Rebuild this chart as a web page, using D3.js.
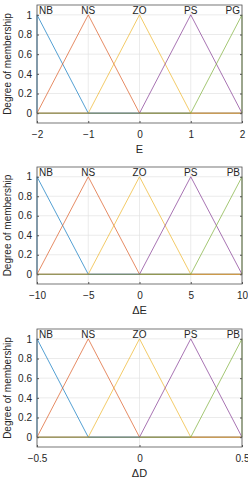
<!DOCTYPE html>
<html>
<head>
<meta charset="utf-8">
<script src="https://cdn.jsdelivr.net/npm/d3@7"></script>
<style>
  body { margin: 0; background: #fff; }
  svg text { font-family: "Liberation Sans", Arial, sans-serif; fill: #262626; }
</style>
</head>
<body>
<div id="chart"></div>
<script>
// Membership function names per panel
var labelsE = ["NB", "NS", "ZO", "PS", "PG"];
var labelsDE = ["NB", "NS", "ZO", "PS", "PB"];
var labelsDD = ["NB", "NS", "ZO", "PS", "PB"];

// Triangular MF params [a, b, c] per panel
var mfE = [[-3, -2, -1], [-2, -1, 0], [-1, 0, 1], [0, 1, 2], [1, 2, 3]];
var mfDE = [[-15, -10, -5], [-10, -5, 0], [-5, 0, 5], [0, 5, 10], [5, 10, 15]];
var mfDD = [[-0.75, -0.5, -0.25], [-0.5, -0.25, 0], [-0.25, 0, 0.25], [0, 0.25, 0.5], [0.25, 0.5, 0.75]];

// Axis ranges and tick labels
var rangeE = [-2, 2], rangeDE = [-10, 10], rangeDD = [-0.5, 0.5];
var ticksE = [-2, -1, 0, 1, 2];
var ticksDE = [-10, -5, 0, 5, 10];
var ticksDD = [-0.5, 0, 0.5];
var yTicks = [0, 0.2, 0.4, 0.6, 0.8, 1];

var colors = ["#0072BD", "#D95319", "#EDB120", "#7E2F8E", "#77AC30"];

var width = 248, height = 480;
var svg = d3.select("#chart").append("svg")
  .attr("width", width)
  .attr("height", height);

var panels = [
  { top: 5, bottom: 123, range: rangeE, ticks: ticksE, mf: mfE, labels: labelsE, title: "E" },
  { top: 167, bottom: 284, range: rangeDE, ticks: ticksDE, mf: mfDE, labels: labelsDE, title: "\u0394E" },
  { top: 329, bottom: 447, range: rangeDD, ticks: ticksDD, mf: mfDD, labels: labelsDD, title: "\u0394D" }
];

var left = 37, right = 242;

panels.forEach(function(p) {
  var x = d3.scaleLinear().domain(p.range).range([left, right]);
  var y = d3.scaleLinear().domain([-0.1, 1.1]).range([p.bottom, p.top]);
  var g = svg.append("g");

  // grid
  g.selectAll(".gx").data(p.ticks).enter().append("line")
    .attr("x1", d => x(d)).attr("x2", d => x(d))
    .attr("y1", p.top).attr("y2", p.bottom)
    .attr("stroke", "#e3e3e3").attr("stroke-width", 0.7);
  g.selectAll(".gy").data(yTicks).enter().append("line")
    .attr("x1", left).attr("x2", right)
    .attr("y1", d => y(d)).attr("y2", d => y(d))
    .attr("stroke", "#e3e3e3").attr("stroke-width", 0.7);

  // membership functions
  var line = d3.line().x(d => x(d[0])).y(d => y(d[1]));
  p.mf.forEach(function(m, i) {
    var pts = [[p.range[0], 0]];
    m.forEach(function(v, k) {
      if (v >= p.range[0] && v <= p.range[1]) pts.push([v, k === 1 ? 1 : 0]);
      else if (k !== 1) {
        // edge of range: clip linearly
        var xe = v < p.range[0] ? p.range[0] : p.range[1];
        var val = 1 - Math.abs(xe - m[1]) / Math.abs(v - m[1]);
        pts.push([xe, val]);
      }
    });
    pts.push([p.range[1], 0]);
    pts.sort((a, b) => a[0] - b[0]);
    g.append("path")
      .datum(pts)
      .attr("d", line)
      .attr("fill", "none")
      .attr("stroke", colors[i])
      .attr("stroke-width", 0.9)
      .attr("stroke-opacity", 0.75);
  });

  // box
  g.append("rect")
    .attr("x", left).attr("y", p.top)
    .attr("width", right - left).attr("height", p.bottom - p.top)
    .attr("fill", "none").attr("stroke", "#555").attr("stroke-width", 0.8);

  // axes
  g.append("g")
    .attr("transform", "translate(0," + p.bottom + ")")
    .call(d3.axisBottom(x).tickValues(p.ticks).tickSize(-2).tickPadding(8).tickFormat(d3.format("")))
    .call(a => a.select(".domain").remove());
  g.append("g")
    .attr("transform", "translate(" + left + ",0)")
    .call(d3.axisLeft(y).tickValues(yTicks).tickSize(-2).tickPadding(5).tickFormat(d3.format("")))
    .call(a => a.select(".domain").remove());
  g.append("g")
    .attr("transform", "translate(" + right + ",0)")
    .call(d3.axisRight(y).tickValues(yTicks).tickSize(-2).tickFormat(""))
    .call(a => a.select(".domain").remove());
  g.selectAll(".tick line").attr("stroke", "#555");
  g.selectAll(".tick text").attr("font-size", 10).attr("fill", "#262626");

  // MF labels
  p.labels.forEach(function(t, i) {
    var px = p.mf[i][1];
    var anchor = i === 0 ? "start" : (i === p.labels.length - 1 ? "end" : "middle");
    var dx = i === 0 ? 2 : (i === p.labels.length - 1 ? -2 : 0);
    g.append("text")
      .attr("x", x(px) + dx)
      .attr("y", y(1) - 1)
      .attr("text-anchor", anchor)
      .attr("font-size", 10)
      .text(t);
  });

  // axis titles
  g.append("text")
    .attr("x", (left + right) / 2)
    .attr("y", p.bottom + 30)
    .attr("text-anchor", "middle")
    .attr("font-size", 11)
    .text(p.title);
  g.append("text")
    .attr("transform", "rotate(-90)")
    .attr("x", -(p.top + p.bottom) / 2)
    .attr("y", 11)
    .attr("text-anchor", "middle")
    .attr("font-size", 10)
    .text("Degree of membership");
});
</script>
</body>
</html>
